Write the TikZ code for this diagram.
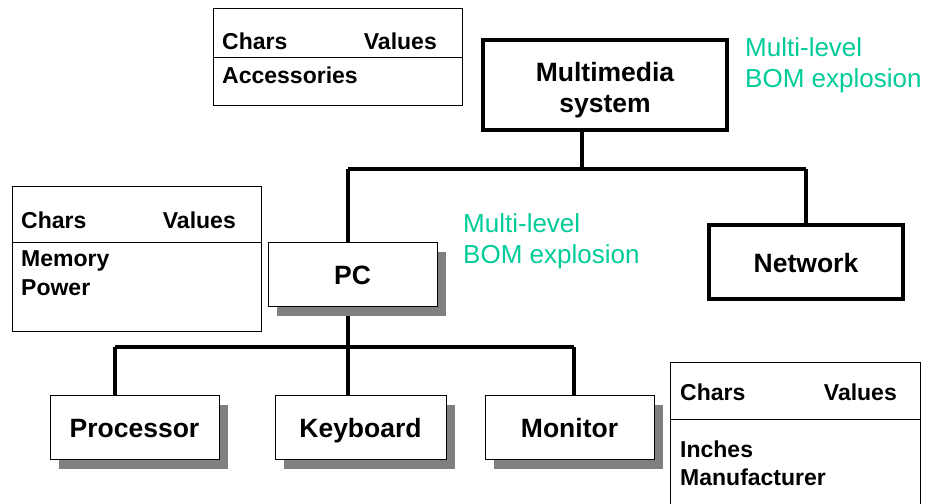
\documentclass[tikz,border=0pt]{standalone}
\usepackage{fontspec}
\setmainfont{Liberation Sans}
\usetikzlibrary{shadows}
\definecolor{bomgreen}{RGB}{0,204,153}
\definecolor{shadowgray}{RGB}{128,128,128}
\begin{document}
\begin{tikzpicture}[x=1pt,y=-1pt,
  partbox/.style={draw, line width=1pt, fill=white, inner sep=0pt,
    text height=21pt, text depth=0pt,
    font=\fontsize{26.5}{30}\selectfont\bfseries,
    drop shadow={shadow xshift=9pt, shadow yshift=-9.5pt, fill=shadowgray, opacity=1}},
  topbox/.style={draw, line width=3.5pt, fill=white, inner sep=0pt, align=center,
    font=\fontsize{26.5}{31}\selectfont\bfseries},
  charbox/.style={draw, line width=1pt, inner sep=0pt},
  chartext/.style={inner sep=0pt, font=\fontsize{23}{28}\selectfont\bfseries},
  bomtext/.style={inner sep=0pt, align=left, text=bomgreen,
    font=\fontsize{26}{31}\selectfont},
  conn/.style={line width=4pt}
]
\useasboundingbox (0,0) rectangle (928,503);
\fill[white] (0,0) rectangle (928,503);

% junction coordinates
\coordinate (jtop) at (582,169);
\coordinate (xpc) at (348,0);
\coordinate (xnet) at (806,0);
\coordinate (jbot) at (348,347);
\coordinate (xproc) at (115,0);
\coordinate (xmon) at (574,0);

\node[topbox, minimum width=244pt, minimum height=90pt] (mm) at (605,85) {};
\node[topbox, minimum width=194pt, minimum height=74pt] (net) at (806,262) {};

% connectors (drawn first, boxes cover ends)
\draw[conn] (mm.south -| jtop) -- (jtop);
\draw[conn] (jtop -| xpc) -- (jtop -| xnet);
\draw[conn] (jtop -| xnet) -- (net.north -| xnet);
\draw[conn] (jtop -| xpc) -- (348,243);
\draw[conn] (348,300) -- (jbot);
\draw[conn] (jbot -| xproc) -- (jbot -| xmon);
\draw[conn] (jbot -| xproc) -- (115,396);
\draw[conn] (jbot) -- (348,396);
\draw[conn] (jbot -| xmon) -- (574,396);

\node[partbox, minimum width=169pt, minimum height=64pt] (pc) at (352.5,274) {PC};
\node[partbox, minimum width=169pt, minimum height=64pt] (proc) at (134.5,427) {Processor};
\node[partbox, minimum width=171pt, minimum height=64pt] (kbd) at (360.5,427) {Keyboard};
\node[partbox, minimum width=169pt, minimum height=64pt] (mon) at (569.5,427) {Monitor};

% top boxes above connectors
\node[topbox, minimum width=244pt, minimum height=90pt] at (605,85) {};
\node[topbox, minimum width=194pt, minimum height=74pt] at (806,262) {};
\node[inner sep=0pt, align=center, font=\fontsize{26.5}{31}\selectfont\bfseries] (mmt) at (605,90) {Multimedia\\system};
\node[inner sep=0pt, font=\fontsize{26.5}{31}\selectfont\bfseries] (nett) at (806,263) {Network};

% characteristics tables
\node[charbox, minimum width=249pt, minimum height=96pt] (c1) at (337.5,57) {};
\draw[line width=1pt] (c1.west |- 0,58) -- (c1.east |- 0,58);
\node[chartext, anchor=base west] (c1a) at (222,49) {Chars};
\node[chartext, anchor=base east] (c1b) at (437,49) {Values};
\node[chartext, anchor=base west] (c1c) at (222,83) {Accessories};

\node[charbox, minimum width=249pt, minimum height=145pt] (c2) at (136.5,258.5) {};
\draw[line width=1pt] (c2.west |- 0,242) -- (c2.east |- 0,242);
\node[chartext, anchor=base west] (c2a) at (21,228) {Chars};
\node[chartext, anchor=base east] (c2b) at (236,228) {Values};
\node[chartext, anchor=base west] (c2c) at (21,266) {Memory};
\node[chartext, anchor=base west] (c2d) at (21,295) {Power};

\begin{scope}
\clip (0,0) rectangle (928,503);
\node[charbox, minimum width=250pt, minimum height=160pt] (c3) at (795,442) {};
\end{scope}
\draw[line width=1pt] (c3.west |- 0,419) -- (c3.east |- 0,419);
\node[chartext, anchor=base west] (c3a) at (680,400) {Chars};
\node[chartext, anchor=base east] (c3b) at (897,400) {Values};
\node[chartext, anchor=base west] (c3c) at (680,457) {Inches};
\node[chartext, anchor=base west] (c3d) at (680,485) {Manufacturer};

% BOM explosion labels (base = last line's baseline)
\node[bomtext, anchor=base west] (b1) at (745,87) {Multi-level\\BOM explosion};
\node[bomtext, anchor=base west] (b2) at (463,263) {Multi-level\\BOM explosion};
\end{tikzpicture}
\end{document}
